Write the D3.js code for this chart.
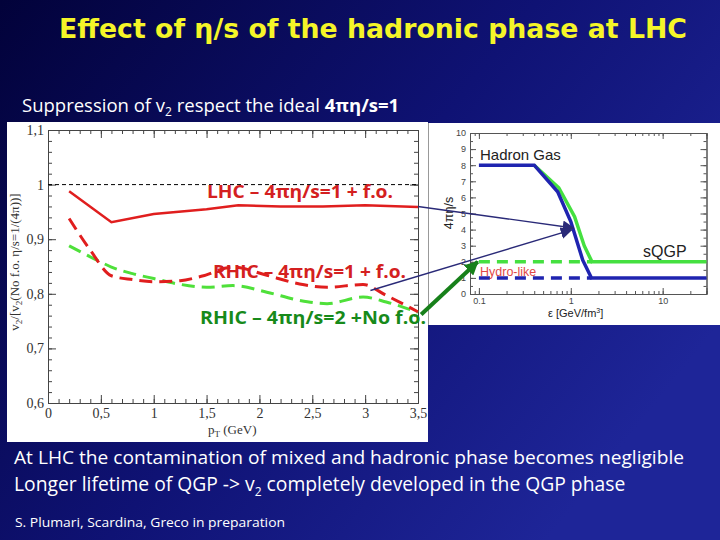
<!DOCTYPE html>
<html>
<head>
<meta charset="utf-8">
<script src="https://cdn.jsdelivr.net/npm/d3@7"></script>
<style>
  body { margin: 0; padding: 0; }
  svg { display: block; }
</style>
</head>
<body>
<div id="slide"></div>
<script>
// main plot: v2 ratio vs pT
var lhcSolid = [[0.2, 0.988], [0.6, 0.931], [1.0, 0.946], [1.5, 0.955], [1.8, 0.962], [2.2, 0.960], [2.6, 0.960], [3.0, 0.962], [3.5, 0.959]];
var rhicRed = [[0.2, 0.938], [0.4, 0.880], [0.6, 0.833], [0.8, 0.826], [1.0, 0.822], [1.25, 0.824], [1.45, 0.832], [1.75, 0.849], [2.07, 0.834], [2.38, 0.818], [2.64, 0.812], [2.98, 0.817], [3.2, 0.797], [3.5, 0.767]];
var rhicGreen = [[0.2, 0.888], [0.5, 0.858], [0.6, 0.849], [0.8, 0.837], [1.0, 0.828], [1.23, 0.818], [1.5, 0.812], [1.75, 0.815], [2.07, 0.803], [2.38, 0.788], [2.64, 0.782], [2.98, 0.794], [3.2, 0.785], [3.5, 0.766]];
var xTicks = [0, 0.5, 1, 1.5, 2, 2.5, 3, 3.5];
var yTicks = [0.6, 0.7, 0.8, 0.9, 1, 1.1];

// inset: 4pi eta/s vs energy density
var blueSolid = [[0.1, 8], [0.4, 8], [0.72, 6.35], [1.0, 4.5], [1.35, 2.1], [1.68, 1], [30, 1]];
var greenSolid = [[0.4, 8], [0.74, 6.6], [1.1, 4.8], [1.4, 3.0], [1.7, 2], [30, 2]];
var blueDashed = [[0.1, 1], [1.68, 1]];
var greenDashed = [[0.1, 2], [1.7, 2]];
var insetXTicks = [0.1, 1, 10];
var insetYTicks = [0, 1, 2, 3, 4, 5, 6, 7, 8, 9, 10];

var W = 720, H = 540;
var svg = d3.select("#slide").append("svg")
    .attr("width", W)
    .attr("height", H);

var defs = svg.append("defs");
var grad = defs.append("linearGradient")
    .attr("id", "bg")
    .attr("x1", "0").attr("y1", "0")
    .attr("x2", "1").attr("y2", "0.6");
grad.append("stop").attr("offset", "0").attr("stop-color", "#02023a");
grad.append("stop").attr("offset", "0.55").attr("stop-color", "#0f1274");
grad.append("stop").attr("offset", "1").attr("stop-color", "#1e2598");
svg.append("rect").attr("width", W).attr("height", H).attr("fill", "url(#bg)");

function arrowMarker(id, color, size) {
  defs.append("marker")
      .attr("id", id)
      .attr("viewBox", "0 0 10 10")
      .attr("refX", 9).attr("refY", 5)
      .attr("markerWidth", size).attr("markerHeight", size)
      .attr("orient", "auto")
      .attr("markerUnits", "userSpaceOnUse")
    .append("path")
      .attr("d", "M0,0 L10,5 L0,10 z")
      .attr("fill", color);
}
arrowMarker("navyHead", "#2a2a78", 12);
arrowMarker("greenHead", "#17801a", 14);

// title + texts
svg.append("text")
    .attr("x", 373).attr("y", 38)
    .attr("text-anchor", "middle")
    .attr("textLength", 628)
    .attr("lengthAdjust", "spacingAndGlyphs")
    .style("font-family", "'DejaVu Sans', sans-serif")
    .style("font-weight", "bold")
    .style("font-size", "26px")
    .attr("fill", "#f5f528")
    .text("Effect of η/s of the hadronic phase at LHC");

var sub = svg.append("text")
    .attr("x", 22).attr("y", 112)
    .style("font-family", "'Open Sans', sans-serif")
    .style("font-size", "18.5px")
    .attr("fill", "#ffffff");
sub.append("tspan").text("Suppression of v");
sub.append("tspan").attr("dy", 4).style("font-size", "12px").text("2");
sub.append("tspan").attr("dy", -4).text(" respect the ideal ");
sub.append("tspan").style("font-weight", "bold").text("4πη/s=1");

// ---------- main plot ----------
svg.append("rect")
    .attr("x", 7).attr("y", 122)
    .attr("width", 421).attr("height", 320)
    .attr("fill", "#ffffff");

var x = d3.scaleLinear().domain([0, 3.5]).range([48, 418]);
var y = d3.scaleLinear().domain([0.6, 1.1]).range([403, 130]);
var fmt = function(d) { return d3.format("~g")(d).replace(".", ","); };

var g = svg.append("g");

function minorAxis(axisFn, scale, vals, size, transform) {
  g.append("g")
      .attr("transform", transform)
      .call(axisFn(scale).tickValues(vals).tickSize(size).tickFormat(""))
      .call(function(s) { s.select(".domain").remove(); });
}
var xMinor = d3.range(0, 3.51, 0.1);
var yMinor = d3.range(0.6, 1.101, 0.02);

minorAxis(d3.axisBottom, x, xMinor, -4, "translate(0," + y(0.6) + ")");
minorAxis(d3.axisTop, x, xMinor, -4, "translate(0," + y(1.1) + ")");
minorAxis(d3.axisLeft, y, yMinor, -4, "translate(" + x(0) + ",0)");
minorAxis(d3.axisRight, y, yMinor, -4, "translate(" + x(3.5) + ",0)");

g.append("g").attr("transform", "translate(0," + y(0.6) + ")")
  .call(d3.axisBottom(x).tickValues(xTicks).tickSize(-8).tickPadding(5).tickFormat(fmt));
g.append("g").attr("transform", "translate(0," + y(1.1) + ")")
  .call(d3.axisTop(x).tickValues(xTicks).tickSize(-8).tickFormat(""));
g.append("g").attr("transform", "translate(" + x(0) + ",0)")
  .call(d3.axisLeft(y).tickValues(yTicks).tickSize(-8).tickPadding(4).tickFormat(fmt));
g.append("g").attr("transform", "translate(" + x(3.5) + ",0)")
  .call(d3.axisRight(y).tickValues(yTicks).tickSize(-8).tickFormat(""));
g.selectAll(".tick text")
    .style("font-family", "'Liberation Serif', 'DejaVu Serif', serif")
    .style("font-size", "14px")
    .attr("fill", "#333");
g.selectAll(".domain, .tick line").attr("stroke", "#444");

// reference line at 1
g.append("line")
    .attr("x1", x(0)).attr("x2", x(3.5))
    .attr("y1", y(1)).attr("y2", y(1))
    .attr("stroke", "#000").attr("stroke-width", 1)
    .attr("stroke-dasharray", "4,3");

var mainLine = d3.line()
    .x(function(d) { return x(d[0]); })
    .y(function(d) { return y(d[1]); });
var smoothLine = d3.line()
    .curve(d3.curveMonotoneX)
    .x(function(d) { return x(d[0]); })
    .y(function(d) { return y(d[1]); });

g.append("path").datum(rhicGreen)
    .attr("d", smoothLine)
    .attr("fill", "none").attr("stroke", "#4fe03a").attr("stroke-width", 3)
    .attr("stroke-dasharray", "13,7");
g.append("path").datum(rhicRed)
    .attr("d", smoothLine)
    .attr("fill", "none").attr("stroke", "#e01e1e").attr("stroke-width", 3)
    .attr("stroke-dasharray", "13,7");
g.append("path").datum(lhcSolid)
    .attr("d", mainLine)
    .attr("fill", "none").attr("stroke", "#e01e1e").attr("stroke-width", 2.5);

// axis titles
var yl = g.append("text")
    .attr("transform", "translate(19," + 262 + ") rotate(-90)")
    .attr("text-anchor", "middle")
    .style("font-family", "'Liberation Serif', 'DejaVu Serif', serif")
    .style("font-size", "13px")
    .attr("fill", "#333");
yl.append("tspan").text("v");
yl.append("tspan").attr("dy", 3).style("font-size", "9px").text("2");
yl.append("tspan").attr("dy", -3).text("/[v");
yl.append("tspan").attr("dy", 3).style("font-size", "9px").text("2");
yl.append("tspan").attr("dy", -3).text("(No f.o. η/s=1/(4π))]");

var xl = g.append("text")
    .attr("x", 208).attr("y", 434)
    .style("font-family", "'Liberation Serif', 'DejaVu Serif', serif")
    .style("font-size", "13px")
    .attr("fill", "#333");
xl.append("tspan").text("p");
xl.append("tspan").attr("dy", 3).style("font-size", "9px").text("T");
xl.append("tspan").attr("dy", -3).text(" (GeV)");

// curve labels
var labelFont = "'Open Sans', 'Liberation Sans', sans-serif";
var curveLabels = [
  {text: "LHC – 4πη/s=1 + f.o.", x: 207, y: 198, w: 186, color: "#d42020"},
  {text: "RHIC – 4πη/s=1 + f.o.", x: 213, y: 278, w: 193, color: "#d42020"},
  {text: "RHIC – 4πη/s=2 +No f.o.", x: 200, y: 324, w: 226, color: "#178a1a"}
];
svg.selectAll(".clabel").data(curveLabels).enter().append("text")
    .attr("class", "clabel")
    .attr("x", function(d) { return d.x; })
    .attr("y", function(d) { return d.y; })
    .attr("textLength", function(d) { return d.w; })
    .attr("lengthAdjust", "spacingAndGlyphs")
    .style("font-family", labelFont)
    .style("font-weight", "bold")
    .style("font-size", "17px")
    .attr("fill", function(d) { return d.color; })
    .text(function(d) { return d.text; });

// ---------- inset ----------
svg.append("rect")
    .attr("x", 429).attr("y", 123)
    .attr("width", 291).attr("height", 202)
    .attr("fill", "#ffffff");
svg.append("line")
    .attr("x1", 428.5).attr("x2", 428.5).attr("y1", 123).attr("y2", 325)
    .attr("stroke", "#999");

var ix = d3.scaleLog().domain([0.08, 30]).range([470, 706.5]);
var iy = d3.scaleLinear().domain([0, 10]).range([294, 133]);
var ig = svg.append("g");

var logMinor = ix.ticks();
var yMinorI = d3.range(0, 10.01, 0.5);
ig.append("g").attr("transform", "translate(0," + iy(0) + ")")
    .call(d3.axisBottom(ix).tickValues(logMinor).tickSize(-3).tickFormat(""));
ig.append("g").attr("transform", "translate(0," + iy(10) + ")")
    .call(d3.axisTop(ix).tickValues(logMinor).tickSize(-3).tickFormat(""));
ig.append("g").attr("transform", "translate(" + ix(0.08) + ",0)")
    .call(d3.axisLeft(iy).tickValues(yMinorI).tickSize(-3).tickFormat(""));
ig.append("g").attr("transform", "translate(" + ix(30) + ",0)")
    .call(d3.axisRight(iy).tickValues(yMinorI).tickSize(-3).tickFormat(""));
ig.append("g").attr("transform", "translate(0," + iy(0) + ")")
    .call(d3.axisBottom(ix).tickValues(insetXTicks).tickSize(-6).tickPadding(4).tickFormat(d3.format("~g")));
ig.append("g").attr("transform", "translate(0," + iy(10) + ")")
    .call(d3.axisTop(ix).tickValues(insetXTicks).tickSize(-6).tickFormat(""));
ig.append("g").attr("transform", "translate(" + ix(0.08) + ",0)")
    .call(d3.axisLeft(iy).tickValues(insetYTicks).tickSize(-6).tickPadding(4).tickFormat(d3.format("d")));
ig.append("g").attr("transform", "translate(" + ix(30) + ",0)")
    .call(d3.axisRight(iy).tickValues(insetYTicks).tickSize(-6).tickFormat(""));
ig.selectAll(".tick text")
    .style("font-family", "'Liberation Sans', Arial, sans-serif")
    .style("font-size", "9px")
    .attr("fill", "#444");
ig.selectAll(".domain, .tick line").attr("stroke", "#555");

var iline = d3.line()
    .x(function(d) { return ix(d[0]); })
    .y(function(d) { return iy(d[1]); });

ig.append("path").datum(greenDashed).attr("d", iline)
    .attr("fill", "none").attr("stroke", "#45e040").attr("stroke-width", 3.5)
    .attr("stroke-dasharray", "11,7");
ig.append("path").datum(blueDashed).attr("d", iline)
    .attr("fill", "none").attr("stroke", "#1f24b0").attr("stroke-width", 3.5)
    .attr("stroke-dasharray", "11,7");
ig.append("path").datum(greenSolid).attr("d", iline)
    .attr("fill", "none").attr("stroke", "#45e040").attr("stroke-width", 3.5);
ig.append("path").datum(blueSolid).attr("d", iline)
    .attr("fill", "none").attr("stroke", "#1f24b0").attr("stroke-width", 3.5);

ig.append("text").attr("x", 480).attr("y", 160)
    .style("font-family", "'Liberation Sans', Arial, sans-serif")
    .style("font-size", "15px").attr("fill", "#222")
    .text("Hadron Gas");
ig.append("text").attr("x", 643).attr("y", 257)
    .style("font-family", "'Liberation Sans', Arial, sans-serif")
    .style("font-size", "16px").attr("fill", "#222")
    .text("sQGP");
ig.append("text").attr("x", 480).attr("y", 276)
    .style("font-family", "'Liberation Sans', Arial, sans-serif")
    .style("font-size", "12.5px").attr("fill", "#e04848")
    .text("Hydro-like");
ig.append("text")
    .attr("transform", "translate(453,213) rotate(-90)")
    .attr("text-anchor", "middle")
    .style("font-family", "'Liberation Sans', Arial, sans-serif")
    .style("font-size", "12.5px").attr("fill", "#222")
    .text("4πη/s");
var ixl = ig.append("text").attr("x", 548).attr("y", 317)
    .style("font-family", "'Liberation Sans', Arial, sans-serif")
    .style("font-size", "11px").attr("fill", "#222");
ixl.append("tspan").text("ε [GeV/fm");
ixl.append("tspan").attr("dy", -4).style("font-size", "7px").text("3");
ixl.append("tspan").attr("dy", 4).text("]");

// ---------- arrows linking the two plots ----------
var arrows = [
  {from: [3.5, 0.96], to: [1.07, 4.1], color: "#2a2a78", width: 1.4, head: "navyHead"},
  {from: [3.05, 0.806], to: [1.02, 3.98], color: "#2a2a78", width: 1.4, head: "navyHead"},
  {from: [3.53, 0.762], to: [0.097, 2.0], color: "#17801a", width: 4, head: "greenHead"}
];
svg.selectAll(".arrow").data(arrows).enter().append("line")
    .attr("class", "arrow")
    .attr("x1", function(d) { return x(d.from[0]); })
    .attr("y1", function(d) { return y(d.from[1]); })
    .attr("x2", function(d) { return ix(d.to[0]); })
    .attr("y2", function(d) { return iy(d.to[1]); })
    .attr("stroke", function(d) { return d.color; })
    .attr("stroke-width", function(d) { return d.width; })
    .attr("marker-end", function(d) { return "url(#" + d.head + ")"; });

// ---------- bottom text ----------
var bodyFont = "'Open Sans', 'Liberation Sans', sans-serif";
svg.append("text")
    .attr("x", 14).attr("y", 464)
    .attr("textLength", 670)
    .attr("lengthAdjust", "spacingAndGlyphs")
    .style("font-family", bodyFont).style("font-size", "18px")
    .attr("fill", "#ffffff")
    .text("At LHC the contamination of mixed and hadronic phase becomes negligible");
var l2 = svg.append("text")
    .attr("x", 14).attr("y", 491)
    .style("font-family", bodyFont).style("font-size", "19.3px")
    .attr("fill", "#ffffff");
l2.append("tspan").text("Longer lifetime of QGP -> v");
l2.append("tspan").attr("dy", 5).style("font-size", "12px").text("2");
l2.append("tspan").attr("dy", -5).text(" completely developed in the QGP phase");
svg.append("text")
    .attr("x", 15).attr("y", 527)
    .attr("textLength", 270)
    .attr("lengthAdjust", "spacingAndGlyphs")
    .style("font-family", bodyFont).style("font-size", "13px")
    .attr("fill", "#ffffff")
    .text("S. Plumari, Scardina, Greco in preparation");
</script>
</body>
</html>
